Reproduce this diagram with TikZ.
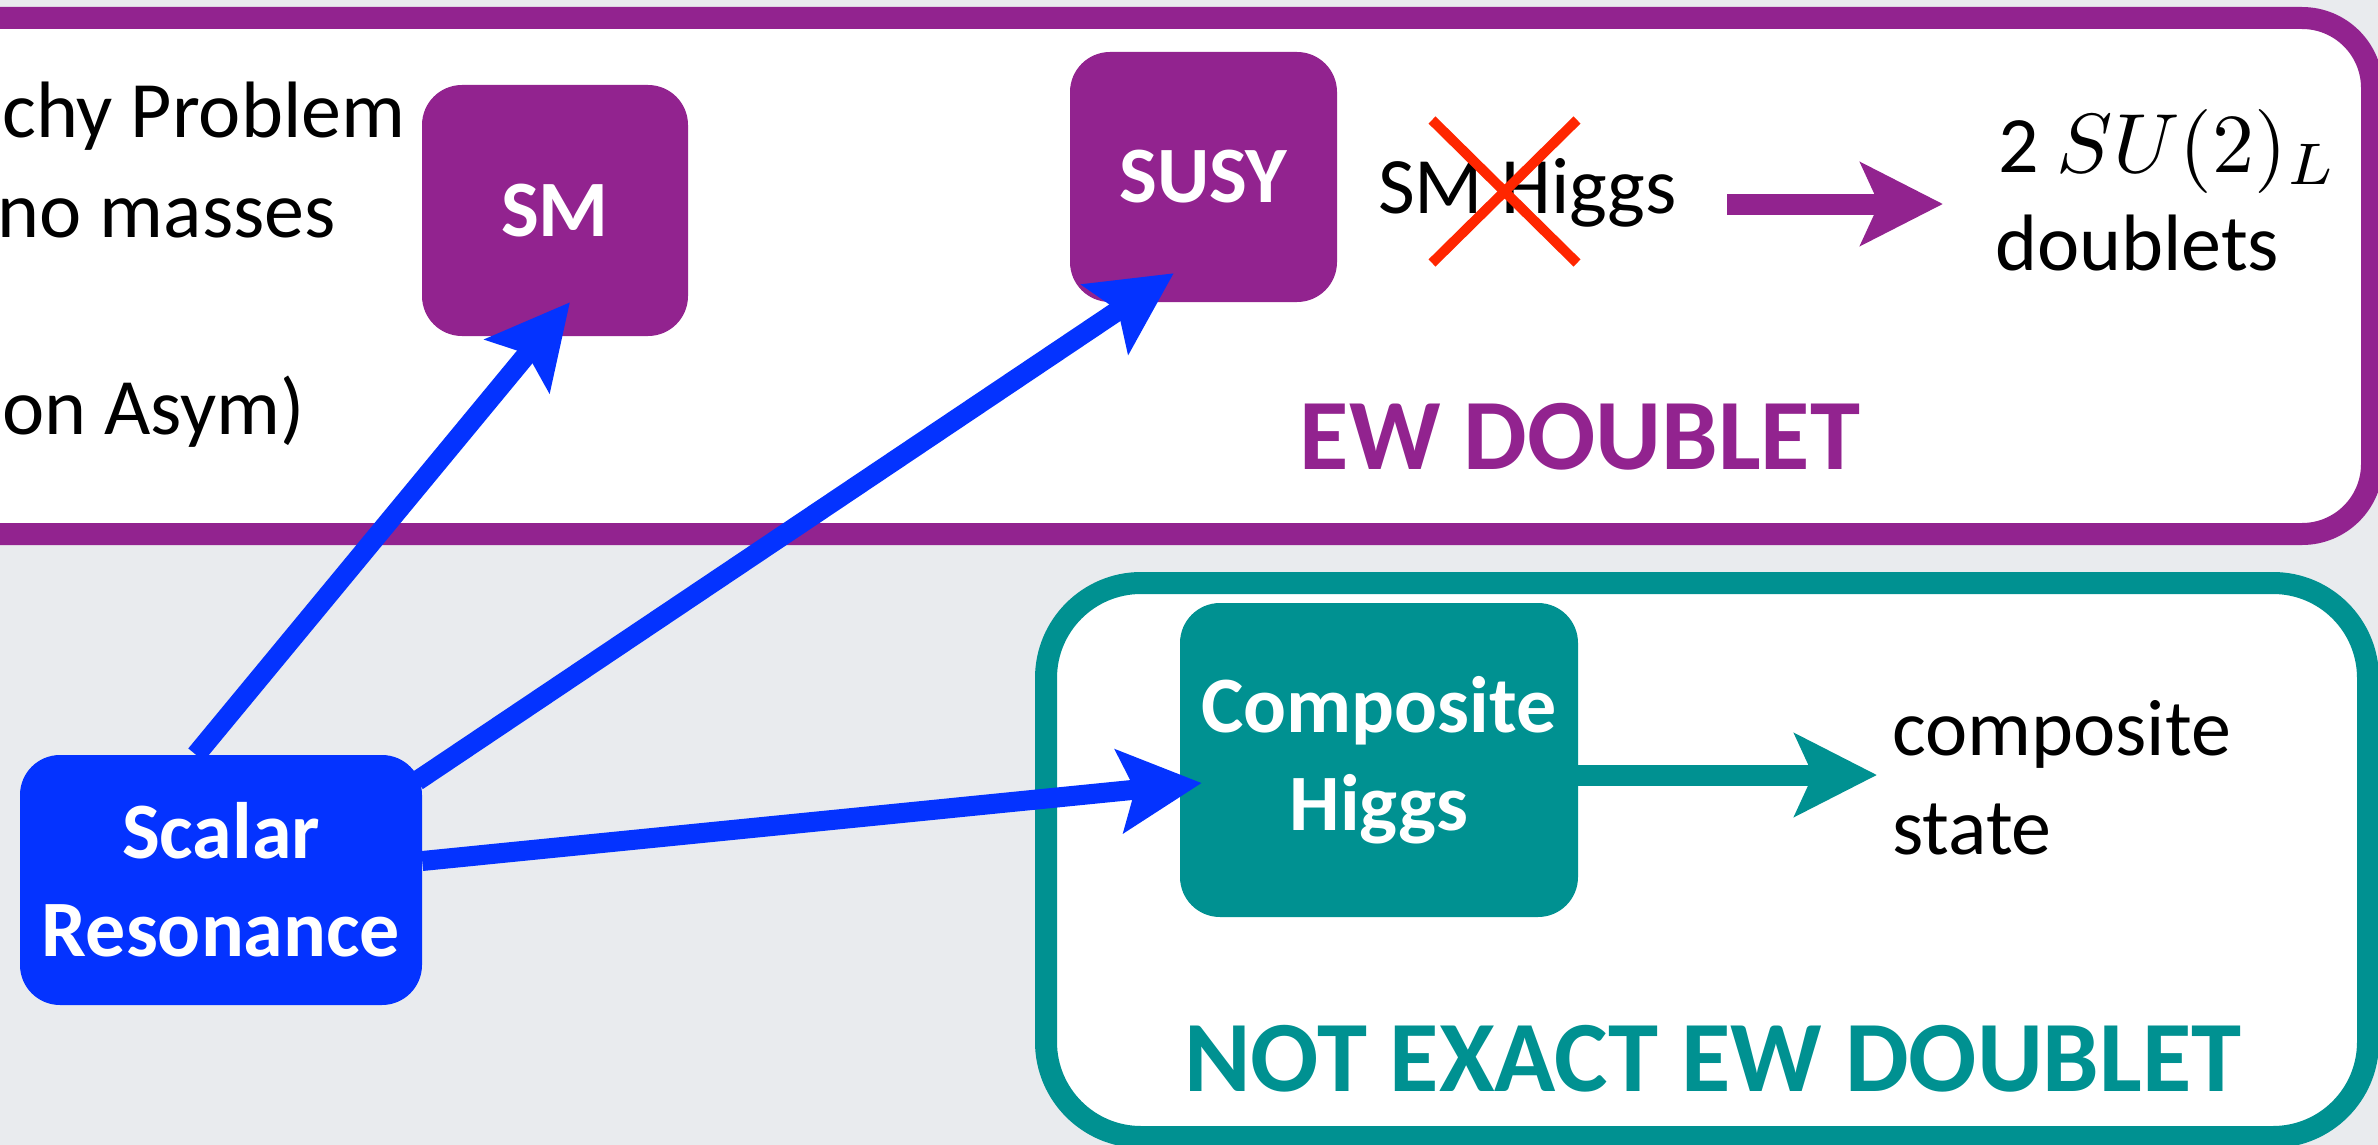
\documentclass[tikz,border=0pt]{standalone}
\usepackage{fontspec}
\setmainfont{Carlito}
\usetikzlibrary{arrows.meta,calc}
\definecolor{bgc}{RGB}{233,235,238}
\definecolor{purp}{RGB}{146,35,143}
\definecolor{tealc}{RGB}{0,145,145}
\definecolor{blu}{RGB}{4,51,255}
\definecolor{redx}{RGB}{255,38,0}
\begin{document}
\begin{tikzpicture}[x=1pt,y=-1pt,
  boxnode/.style={rounded corners=40pt, inner sep=0pt, align=center, text=white,
    font=\fontsize{80}{98}\selectfont\bfseries},
  plain/.style={inner sep=0pt, font=\fontsize{80}{98}\selectfont},
  bigtitle/.style={inner sep=0pt, font=\fontsize{101}{120}\selectfont\bfseries},
  bluearrow/.style={draw=blu, line width=20pt, -{Stealth[length=82pt,width=82pt,inset=15pt]}},
  fatarrow/.style={line width=21pt, -{Stealth[length=82pt,width=82pt,inset=18pt]}},
  crossline/.style={draw=redx, line width=10pt}
]
\useasboundingbox (0,0) rectangle (2378,1145);
\fill[bgc] (0,0) rectangle (2378,1145);
\clip (0,0) rectangle (2378,1145);

% group frames
\draw[draw=purp, line width=22pt, fill=white, rounded corners=70pt] (-300,18) rectangle (2372,534);
\draw[draw=tealc, line width=22pt, fill=white, rounded corners=95pt] (1046,583) rectangle (2368,1137);

% boxes
\node[boxnode, fill=purp, minimum width=266pt, minimum height=251pt] (sm) at (555,210.5) {SM};
\node[boxnode, fill=purp, minimum width=267pt, minimum height=250pt] (susy) at (1203.5,177) {SUSY};
\node[boxnode, fill=blu, minimum width=402pt, minimum height=250pt] (scalar) at (221,880) {Scalar\\Resonance};
\node[boxnode, fill=tealc, minimum width=398pt, minimum height=314pt] (comp) at (1379,760) {Composite\\Higgs};

% texts
\node[plain, anchor=base west] (t1) at (2,138) {chy Problem};
\node[plain, anchor=base east] (t2) at (336,237) {no masses};
\node[plain, anchor=base west] (t3) at (2,434) {on Asym)};
\node[plain, anchor=base west] (smh) at (1378,213) {SM Higgs};
\node[plain, anchor=base west] (su2) at (1998,172) {2 \scalebox{8.4}{\normalsize$SU(2)_L$}};
\node[plain, anchor=base west] (dbl) at (1995,270) {doublets};
\node[bigtitle, text=purp, anchor=base] (ewd) at (1580,469) {EW DOUBLET};
\node[bigtitle, text=tealc, anchor=base] (newd) at (1713,1091) {NOT EXACT EW DOUBLET};
\node[plain, anchor=base west] (cs1) at (1892,755) {composite};
\node[plain, anchor=base west] (cs2) at (1892,854) {state};

% red cross over "SM Higgs"
\draw[crossline] ($(smh.base west)+(54,-93)$) -- ($(smh.base west)+(199,50)$);
\draw[crossline] ($(smh.base west)+(199,-93)$) -- ($(smh.base west)+(54,50)$);

% connectors
\draw[bluearrow] ($(scalar.north)+(-25,0)$) -- ($(sm.south)+(15,-34)$);
\draw[bluearrow] ($(scalar.north east)+(-5,26)$) -- ($(susy.south west)+(104,-29)$);
\draw[bluearrow] ($(scalar.east)+(0,-19)$) -- ($(comp.west)+(22,23)$);
\draw[fatarrow, draw=purp, fill=purp] ($(smh.base east)+(50,-9)$) -- ($(su2.base west)+(-55,32)$);
\draw[fatarrow, draw=tealc, fill=tealc] ($(comp.east)+(0,15)$) -- ($(cs1.base west)+(-15,20)$);
\end{tikzpicture}
\end{document}
